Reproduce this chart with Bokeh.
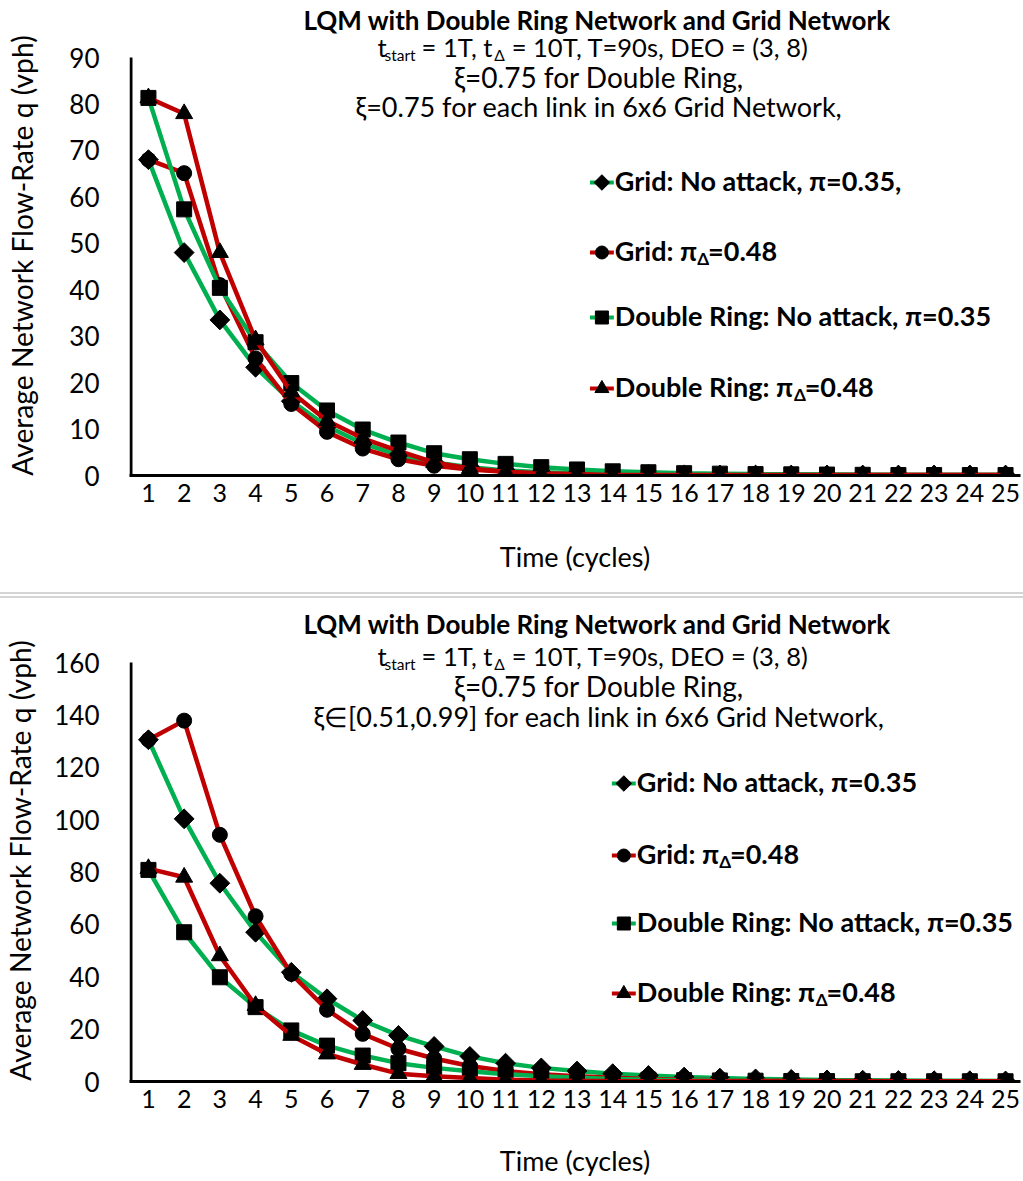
import numpy as np
from bokeh.plotting import figure
from bokeh.models import Range1d, FixedTicker, Label, Div, Title
from bokeh.layouts import column
from bokeh.embed import file_html
from bokeh.resources import INLINE

# ---------------- data ----------------
cycles = list(range(1, 26))
x_tick_labels = [str(c) for c in cycles]

top_grid_no_attack = [68.0, 48.0, 33.5, 23.3, 16.0, 10.6, 6.9, 4.4, 2.8, 1.8, 1.1, 0.7, 0.45, 0.3, 0.2,
                      0.15, 0.1, 0.1, 0.1, 0.1, 0.1, 0.1, 0.1, 0.1, 0.1]
top_grid_attack = [68.0, 65.1, 41.0, 25.2, 15.4, 9.4, 5.8, 3.5, 2.1, 1.3, 0.8, 0.5, 0.3, 0.2, 0.1,
                   0.1, 0.1, 0.1, 0.1, 0.1, 0.1, 0.1, 0.1, 0.1, 0.1]
top_ring_no_attack = [81.3, 57.3, 40.4, 28.7, 19.9, 14.0, 9.9, 7.1, 4.8, 3.5, 2.5, 1.8, 1.3, 0.9, 0.7,
                      0.5, 0.4, 0.3, 0.25, 0.2, 0.15, 0.1, 0.1, 0.1, 0.1]
top_ring_attack = [81.3, 77.9, 48.0, 29.2, 18.0, 11.8, 8.0, 5.3, 2.8, 1.5, 0.8, 0.3, 0.2, 0.1, 0.1,
                   0.1, 0.1, 0.1, 0.1, 0.1, 0.1, 0.1, 0.1, 0.1, 0.1]

bot_grid_no_attack = [130.5, 100.3, 75.7, 57.0, 41.7, 31.6, 23.3, 17.6, 13.4, 9.6, 7.0, 5.2, 4.0, 3.0, 2.3,
                      1.7, 1.3, 1.0, 0.8, 0.6, 0.5, 0.4, 0.3, 0.3, 0.2]
bot_grid_attack = [130.5, 137.8, 94.2, 63.1, 41.1, 27.4, 18.2, 12.5, 8.8, 5.9, 4.0, 2.8, 2.0, 1.4, 1.0,
                   0.7, 0.5, 0.4, 0.3, 0.2, 0.2, 0.1, 0.1, 0.1, 0.1]
bot_ring_no_attack = [80.8, 57.0, 39.8, 28.4, 19.5, 13.7, 9.9, 7.0, 5.2, 3.9, 2.8, 2.0, 1.4, 1.0, 0.7,
                      0.5, 0.4, 0.3, 0.2, 0.15, 0.1, 0.1, 0.1, 0.1, 0.1]
bot_ring_attack = [81.3, 78.0, 48.0, 29.0, 17.6, 10.5, 6.5, 3.0, 2.0, 1.3, 0.7, 0.4, 0.25, 0.15, 0.1,
                   0.1, 0.1, 0.1, 0.1, 0.1, 0.1, 0.1, 0.1, 0.1, 0.1]

top_y_ticks = list(range(0, 91, 10))
bot_y_ticks = list(range(0, 161, 20))

title_text = "LQM with Double Ring Network and Grid Network"
line2_text = "\u03be=0.75 for Double Ring,"
top_line3_text = "\u03be=0.75 for each link in 6x6 Grid Network,"
bot_line3_text = "\u03be\u2208[0.51,0.99] for each link in 6x6 Grid Network,"
x_title = "Time (cycles)"
y_title = "Average Network Flow-Rate q (vph)"

# "|" marks a subscript part
line1_parts = "t|start| = 1T, t|\u0394| = 10T, T=90s, DEO = (3, 8)"
series_names_top = ["Grid: No attack, \u03c0=0.35,", "Grid: \u03c0|\u0394|=0.48",
                    "Double Ring: No attack, \u03c0=0.35", "Double Ring: \u03c0|\u0394|=0.48"]
series_names_bot = ["Grid: No attack, \u03c0=0.35", "Grid: \u03c0|\u0394|=0.48",
                    "Double Ring: No attack, \u03c0=0.35", "Double Ring: \u03c0|\u0394|=0.48"]

# ---------------- style ----------------
FONT = "Lato"
GREEN = "#00B050"
RED = "#C00000"
series_colors = [GREEN, RED, GREEN, RED]
series_markers = [("square", np.pi / 4, 14), ("circle", 0, 15), ("square", 0, 15), ("triangle", 0, 17)]
legend_markers = [("square", np.pi / 4, 11), ("circle", 0, 13), ("square", 0, 13), ("triangle", 0, 14)]

MAIN = 27
L1_MAIN = 25.5
L2_MAIN = 28
SUB = 15.5
LEG = 27
LEG_SUB = 17
TITLE_SIZE = 26
TITLE_OFFSET = 174   # left edge of the title, measured from the frame's left edge

REG = {' ': 278, '.': 278, ',': 278, ':': 278, '=': 584, '(': 333, ')': 333, '[': 278, ']': 278,
       'a': 556, 'b': 556, 'c': 500, 'd': 556, 'e': 556, 'f': 278, 'g': 556, 'h': 556, 'i': 222,
       'k': 500, 'l': 222, 'n': 556, 'o': 556, 'r': 333, 's': 500, 't': 278, 'u': 556, 'w': 722,
       'x': 500, 'D': 722, 'E': 667, 'G': 778, 'N': 722, 'O': 778, 'R': 722, 'T': 611,
       '\u03be': 500, '\u03c0': 560, '\u0394': 668, '\u2208': 700}
BOLD = dict(REG)
BOLD.update({'b': 611, 'd': 611, 'i': 278, 'k': 556, 'l': 278, 'n': 611, 'o': 611, 'r': 389,
             's': 556, 't': 333, 'u': 611, 'w': 778, 'c': 556, ':': 333})


def text_w(s, size, bold=False):
    tbl = BOLD if bold else REG
    fw = 0.95 if bold else 1.0
    return sum(tbl.get(ch, 556) for ch in s) / 1000.0 * size * fw


FIG_W = 1023
L_PAGE, R_PAGE = 126, 1020
PPU = 860 / 24.0
X0 = 1 - (145 - L_PAGE) / PPU
X1 = X0 + (R_PAGE - L_PAGE) / PPU


def make_chart(fig_top, height, frame_top, a_top, f_bot, ymax, yticks, data, line3, names, legend_x,
               legend_rows, text_rows, ylab_standoff, xlab_standoff):
    ppy = (f_bot - a_top) / float(ymax)
    y_end = (f_bot - frame_top) / ppy

    def dx(px):
        return X0 + (px - L_PAGE) / PPU

    def dy(py):
        return (f_bot - py) / ppy

    p = figure(width=FIG_W, height=height, x_range=Range1d(X0, X1), y_range=Range1d(0, y_end),
               output_backend="svg", toolbar_location=None, title=None,
               min_border_left=L_PAGE, min_border_right=FIG_W - R_PAGE,
               min_border_top=frame_top - fig_top, min_border_bottom=fig_top + height - f_bot)
    p.background_fill_color = "white"
    p.border_fill_color = "white"
    p.outline_line_color = None
    p.xgrid.visible = False
    p.ygrid.visible = False

    for ax in (p.xaxis[0], p.yaxis[0]):
        ax.axis_line_width = 3
        ax.axis_line_color = "black"
        ax.major_tick_line_color = None
        ax.minor_tick_line_color = None
        ax.major_label_text_font = FONT
        ax.major_label_text_color = "black"
        ax.axis_label_text_font = FONT
        ax.axis_label_text_font_style = "normal"
        ax.axis_label_text_color = "black"
    p.xaxis.major_label_text_font_size = "25px"
    p.yaxis.major_label_text_font_size = "26px"
    p.xaxis.axis_label_text_font_size = "27px"
    p.yaxis.axis_label_text_font_size = "28.2px"

    p.xaxis.ticker = FixedTicker(ticks=cycles)
    p.xaxis.major_label_overrides = {c: lab for c, lab in zip(cycles, x_tick_labels)}
    p.xaxis.major_label_standoff = 2
    p.xaxis.axis_label = x_title
    p.xaxis.axis_label_standoff = xlab_standoff
    p.yaxis.ticker = FixedTicker(ticks=yticks)
    p.yaxis.major_label_standoff = 24
    p.yaxis.axis_label = y_title
    p.yaxis.axis_label_standoff = ylab_standoff
    p.yaxis.axis_line_color = None
    # visible y axis line only up to the top tick value
    xa = dx(L_PAGE + 1.5)
    p.segment(x0=[xa], y0=[dy(f_bot + 2)], x1=[xa], y1=[ymax], line_color="black", line_width=3)

    # series
    for vals, col, (mk, ang, sz) in zip(data, series_colors, series_markers):
        p.line(cycles, vals, line_color=col, line_width=4.5)
        p.scatter(cycles, vals, marker=mk, angle=ang, size=sz, fill_color="black", line_color="black")

    def put(xpx, ypx, text, size, bold=False, align="left"):
        p.add_layout(Label(x=dx(xpx), y=dy(ypx), text=text, text_font=FONT, text_font_size="%gpx" % size,
                           text_font_style="bold" if bold else "normal", text_align=align,
                           text_baseline="middle", text_color="black"))

    def put_parts(xstart, ypx, parts, size, sub_size, bold):
        xc = xstart
        for k, t in enumerate(parts):
            s = (k % 2 == 1)
            sz = sub_size if s else size
            stripped = t.lstrip(" ")
            xc += text_w(t[:len(t) - len(stripped)], sz, bold)
            if stripped:
                put(xc, ypx + (8 if s else 0), stripped, sz, bold)
            xc += text_w(stripped, sz, bold)

    # main title in the border area above the frame
    cx = 597
    p.add_layout(Title(text=title_text, text_font=FONT, text_font_size="%gpx" % TITLE_SIZE,
                       text_font_style="bold", text_color="black", align="left", offset=TITLE_OFFSET,
                       standoff=0), "above")
    y1, y2, y3 = text_rows
    parts = line1_parts.split("|")
    total = sum(text_w(t, SUB if k % 2 else L1_MAIN) for k, t in enumerate(parts))
    put_parts(cx - total / 2.0, y1, parts, L1_MAIN, SUB, False)
    put(cx, y2, line2_text, L2_MAIN, align="center")
    put(cx, y3, line3, MAIN, align="center")

    # legend (drawn by hand to allow subscripts)
    for name, col, (mk, ang, sz), row in zip(names, series_colors, legend_markers, legend_rows):
        rc = row + 2
        p.segment(x0=[dx(legend_x - 12)], y0=[dy(rc)], x1=[dx(legend_x + 12)], y1=[dy(rc)],
                  line_color=col, line_width=4)
        p.scatter([dx(legend_x)], [dy(rc)], marker=mk, angle=ang, size=sz, fill_color="black",
                  line_color="black")
        put_parts(legend_x + 13, row, name.split("|"), LEG, LEG_SUB, True)
    return p


top = make_chart(0, 592, 35, 57, 475, 90, top_y_ticks,
                 [top_grid_no_attack, top_grid_attack, top_ring_no_attack, top_ring_attack],
                 top_line3_text, series_names_top, 600, [180, 250, 315, 386],
                 (46, 76, 106), 27, 35)
sep = Div(text="", width=FIG_W, height=6, margin=0,
          styles={"background": "linear-gradient(to bottom, #d4d4d4 0px, #d4d4d4 2px, #ffffff 2px, "
                                "#ffffff 4px, #d4d4d4 4px, #d4d4d4 6px)"})
bot = make_chart(598, 583, 639, 662, 1081, 160, bot_y_ticks,
                 [bot_grid_no_attack, bot_grid_attack, bot_ring_no_attack, bot_ring_attack],
                 bot_line3_text, series_names_bot, 622, [781, 853, 921, 991],
                 (655, 685, 716), 14, 33)

layout = column(top, sep, bot, spacing=0)
open("out.html", "w").write(file_html(layout, INLINE))
